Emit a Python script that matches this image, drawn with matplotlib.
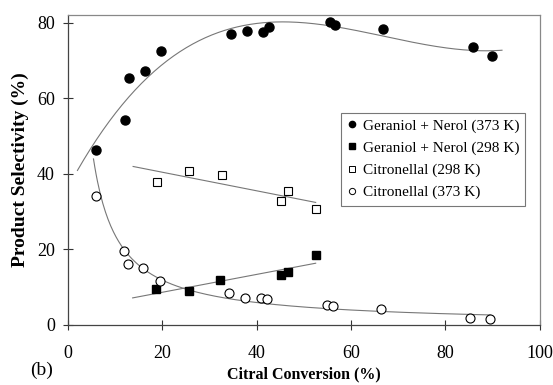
import numpy as np
import matplotlib
matplotlib.use("Agg")
import matplotlib.pyplot as plt
from matplotlib.lines import Line2D

plt.rcParams['font.family'] = ['Liberation Serif', 'DejaVu Serif']

# Geraniol + Nerol selectivity at 373 K
gn373_x = [5.9, 12.1, 12.9, 16.3, 19.7, 34.5, 37.9, 41.3, 42.6, 55.5, 56.6, 66.7, 85.8, 89.8]
gn373_y = [46.3, 54.2, 65.3, 67.3, 72.5, 77.0, 77.8, 77.5, 78.8, 80.1, 79.4, 78.3, 73.5, 71.2]

# Geraniol + Nerol selectivity at 298 K
gn298_x = [18.6, 25.6, 32.3, 45.1, 46.7, 52.5]
gn298_y = [9.5, 8.9, 11.8, 13.1, 14.0, 18.4]

# Citronellal selectivity at 298 K
ci298_x = [18.8, 25.7, 32.6, 45.1, 46.7, 52.5]
ci298_y = [37.9, 40.7, 39.8, 32.9, 35.4, 30.8]

# Citronellal selectivity at 373 K
ci373_x = [5.9, 11.9, 12.7, 16.0, 19.4, 34.2, 37.5, 41.0, 42.1, 55.0, 56.1, 66.3, 85.3, 89.5]
ci373_y = [34.0, 19.6, 16.2, 15.1, 11.7, 8.5, 7.0, 7.0, 6.9, 5.3, 5.1, 4.1, 1.9, 1.6]

x_ticks = [0, 20, 40, 60, 80, 100]
y_ticks = [0, 20, 40, 60, 80]

fig = plt.figure(figsize=(5.53, 3.85), dpi=100)
ax = fig.add_axes([0.123, 0.156, 0.853, 0.805])

trend_kw = dict(color='#777777', lw=0.8, zorder=1)

# Trend lines
p3 = np.polyfit(gn373_x, gn373_y, 3)
xx = np.linspace(2, 92, 200)
ax.plot(xx, np.polyval(p3, xx), **trend_kw)

b, loga = np.polyfit(np.log(ci373_x), np.log(ci373_y), 1)
xx = np.linspace(5.4, 89.5, 300)
ax.plot(xx, np.exp(loga) * xx ** b, **trend_kw)

p1 = np.polyfit(gn298_x, gn298_y, 1)
xx = np.linspace(13.7, 52.5, 50)
ax.plot(xx, np.polyval(p1, xx), **trend_kw)

p1c = np.polyfit(ci298_x, ci298_y, 1)
xx = np.linspace(13.8, 52.5, 50)
ax.plot(xx, np.polyval(p1c, xx), **trend_kw)

# Data points
ms = 6.5
ax.plot(gn373_x, gn373_y, 'o', color='black', ms=ms, ls='none', zorder=3)
ax.plot(gn298_x, gn298_y, 's', color='black', ms=ms - 0.5, ls='none', zorder=3)
ax.plot(ci298_x, ci298_y, 's', mfc='white', mec='black', mew=0.8, ms=ms - 0.5, ls='none', zorder=3)
ax.plot(ci373_x, ci373_y, 'o', mfc='white', mec='black', mew=0.8, ms=ms, ls='none', zorder=3)

ax.set_xlim(0, 100)
ax.set_ylim(0, 82)
ax.set_xticks(x_ticks)
ax.set_yticks(y_ticks)
ax.tick_params(direction='inout', length=7, width=0.8, colors='#333333', labelsize=13,
               labelcolor='black', pad=6)
ax.tick_params(axis='x', pad=11)
for s in ['left', 'bottom']:
    ax.spines[s].set_color('#444444')
    ax.spines[s].set_linewidth(0.9)
for s in ['top', 'right']:
    ax.spines[s].set_color('#888888')
    ax.spines[s].set_linewidth(0.9)

ax.set_ylabel('Product Selectivity (%)', fontsize=14, fontweight='bold', labelpad=6)
ax.set_xlabel('Citral Conversion (%)', fontsize=11.5, fontweight='bold', labelpad=3)

fig.text(0.055, 0.016, '(b)', fontsize=14, ha='left', va='bottom')

handles = [
    Line2D([], [], marker='o', color='black', ls='none', ms=4.5),
    Line2D([], [], marker='s', color='black', ls='none', ms=4.5),
    Line2D([], [], marker='s', mfc='white', mec='black', mew=0.7, ls='none', ms=4.5),
    Line2D([], [], marker='o', mfc='white', mec='black', mew=0.7, ls='none', ms=4.5),
]
labels = ['Geraniol + Nerol (373 K)', 'Geraniol + Nerol (298 K)',
          'Citronellal (298 K)', 'Citronellal (373 K)']
leg = ax.legend(handles, labels, loc='upper left', bbox_to_anchor=(0.579, 0.685),
                fontsize=11, frameon=True, fancybox=False, handlelength=0.6,
                handletextpad=0.4, borderpad=0.4, labelspacing=0.55, borderaxespad=0)
leg.get_frame().set_edgecolor('#555555')
leg.get_frame().set_linewidth(0.8)

fig.savefig('out.png', dpi=100)
